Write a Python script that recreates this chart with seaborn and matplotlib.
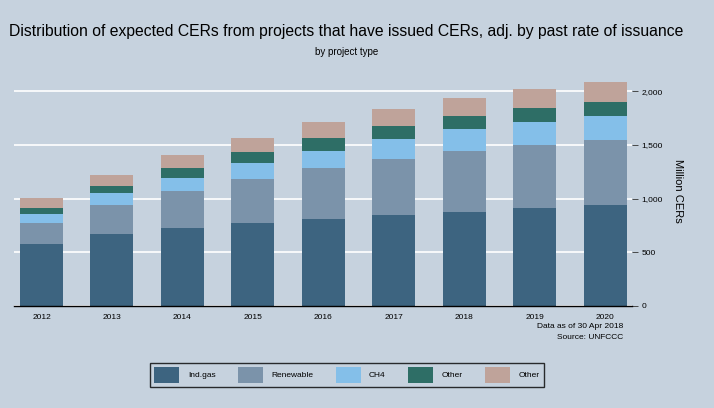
import matplotlib
matplotlib.use("Agg")
import matplotlib.pyplot as plt
import seaborn as sns
import pandas as pd

# Datos (millones de CERs)
years = ["2012", "2013", "2014", "2015", "2016", "2017", "2018", "2019", "2020"]
ind_gas = [577, 670, 726, 772, 809, 847, 874, 912, 940]
renewable = [195, 270, 344, 409, 475, 520, 568, 586, 604]
ch4 = [84, 111, 121, 149, 158, 186, 205, 214, 223]
other_a = [56, 65, 93, 103, 121, 121, 120, 130, 131]
other_b = [93, 103, 121, 130, 149, 159, 168, 177, 186]

series_names = ["Ind.gas", "Renewable", "CH4", "Other", "Other"]
series_values = [ind_gas, renewable, ch4, other_a, other_b]
colors = ["#3d6480", "#7b93aa", "#84bfe9", "#2e6e66", "#bfa39a"]
bg = "#c6d2de"

sns.set_style("white")
plt.rcParams["font.family"] = ["Liberation Sans", "DejaVu Sans"]
plt.rcParams["text.color"] = "black"
plt.rcParams["xtick.color"] = "black"
plt.rcParams["ytick.color"] = "black"
plt.rcParams["axes.labelcolor"] = "black"

fig = plt.figure(figsize=(7.14, 4.08), dpi=100, facecolor=bg)
ax = fig.add_axes([0.0196, 0.25, 0.8655, 0.566])
ax.set_facecolor(bg)

# Barras apiladas
bottom = [0] * len(years)
for name, vals, col in zip(series_names, series_values, colors):
    df = pd.DataFrame({"year": years, "value": vals})
    sns.barplot(data=df, x="year", y="value", color=col, bottom=bottom,
                width=0.61, ax=ax, saturation=1, label=name, zorder=3,
                linewidth=0, edgecolor="none")
    bottom = [b + v for b, v in zip(bottom, vals)]

ax.set_xlim(-0.39, 8.38)
ax.set_ylim(0, 2150)
ax.set_yticks([0, 500, 1000, 1500, 2000])
ax.set_yticklabels(["0", "500", "1,000", "1,500", "2,000"])
ax.yaxis.tick_right()
ax.yaxis.set_label_position("right")
ax.grid(axis="y", color="white", linewidth=1.2, zorder=0)
ax.set_axisbelow(True)
ax.tick_params(axis="y", labelsize=6, length=4, width=0.6, color="#333333", pad=3)
ax.tick_params(axis="x", labelsize=6, length=0, pad=6)
ax.set_xlabel("")
ax.set_ylabel("Million CERs", fontsize=8, rotation=-90, labelpad=14)

for s in ["top", "left", "right"]:
    ax.spines[s].set_visible(False)
ax.spines["bottom"].set_color("black")
ax.spines["bottom"].set_linewidth(1.0)
ax.spines["bottom"].set_zorder(5)

if ax.get_legend() is not None:
    ax.get_legend().remove()

fig.text(0.485, 0.922, "Distribution of expected CERs from projects that have issued CERs, adj. by past rate of issuance",
         ha="center", va="center", fontsize=11.3)
fig.text(0.485, 0.872, "by project type", ha="center", va="center", fontsize=7)
fig.text(0.873, 0.200, "Data as of 30 Apr 2018", ha="right", va="center", fontsize=6)
fig.text(0.873, 0.174, "Source: UNFCCC", ha="right", va="center", fontsize=6)

h, l = ax.get_legend_handles_labels()
leg = fig.legend(h[:5], l[:5], loc="center", bbox_to_anchor=(0.486, 0.081), ncol=5,
                 frameon=True, fancybox=False, edgecolor="black", facecolor=bg,
                 fontsize=6, handlelength=3.0, handleheight=2.6, handletextpad=1.0,
                 columnspacing=2.7, borderpad=0.5)
leg.get_frame().set_linewidth(1.0)
for p in leg.get_patches():
    p.set_linewidth(0)

fig.savefig("out.png", dpi=100, facecolor=bg)
plt.close()
